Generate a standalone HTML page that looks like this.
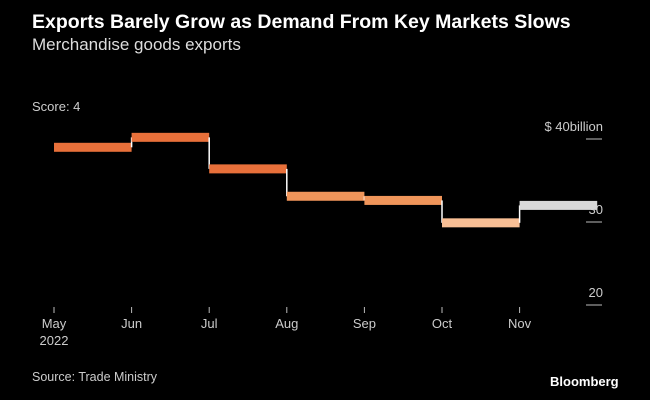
<!DOCTYPE html>
<html><head><meta charset="utf-8"><style>
body{margin:0;background:#000;width:650px;height:400px;overflow:hidden;font-family:"Liberation Sans",sans-serif;color:#fff}
.t{position:absolute}
</style></head><body>
<div class="t" style="left:32px;top:11px;font-size:19.5px;font-weight:bold">Exports Barely Grow as Demand From Key Markets Slows</div>
<div class="t" style="left:32px;top:35px;font-size:17px;color:#ddd">Merchandise goods exports</div>
<div class="t" style="left:32px;top:99px;font-size:13px;color:#ccc">Score: 4</div>
<div class="t" style="left:32px;top:370px;font-size:12.5px;color:#ccc">Source: Trade Ministry</div>
<div class="t" style="left:550px;top:374px;font-size:13px;font-weight:bold">Bloomberg</div>
<svg id="c" width="650" height="400" style="position:absolute;left:0;top:0"></svg>
<script>
const months=["May","Jun","Jul","Aug","Sep","Oct","Nov"];
const values=[39.0,40.2,36.4,33.1,32.6,29.9,32.0];
const colors=["#e8703a","#e8703a","#e8703a","#f0955a","#f0955a","#f9bf95","#d9d9d9"];
const yTicks=[20,30,40];
const yLabels=["20","30","$ 40billion"];
const svg=document.getElementById('c');
const NS="http://www.w3.org/2000/svg";
const x0=54,step=77.6;
const xS=i=>x0+i*step;
const yS=v=>222-(v-30)*8.3;
function mk(t,a){const e=document.createElementNS(NS,t);for(const k in a)e.setAttribute(k,a[k]);svg.appendChild(e);return e;}
yTicks.forEach((v,i)=>{
 const l=mk('line',{x1:586,x2:602,y1:yS(v),y2:yS(v),stroke:'#bbb','stroke-width':1});
 
 
 const t=mk('text',{x:603,y:yS(v)-8,'text-anchor':'end','font-size':13,fill:'#ccc','font-family':'Liberation Sans'});
 t.textContent=yLabels[i];
 
 
});
months.forEach((m,i)=>{
 const x=xS(i);
 const tk=mk('line',{x1:x,x2:x,y1:307,y2:313,stroke:'#bbb','stroke-width':1});
 
 
 const t=mk('text',{x:x,y:328,'text-anchor':'middle','font-size':13,fill:'#ccc','font-family':'Liberation Sans'});
 t.textContent=m;
 
 
});
const yr=mk('text',{x:x0,y:345,'text-anchor':'middle','font-size':13,fill:'#ccc','font-family':'Liberation Sans'});
yr.textContent="2022";


values.forEach((v,i)=>{
 if(i>0){
  const c=mk('line',{x1:xS(i),x2:xS(i),y1:yS(values[i-1]),y2:yS(v),stroke:'#fff','stroke-width':1.5});
  
  
 }
 const r=mk('rect',{x:xS(i),y:yS(v)-4.5,width:step,height:9,fill:colors[i]});
 
 
});
</script>
</body></html>
